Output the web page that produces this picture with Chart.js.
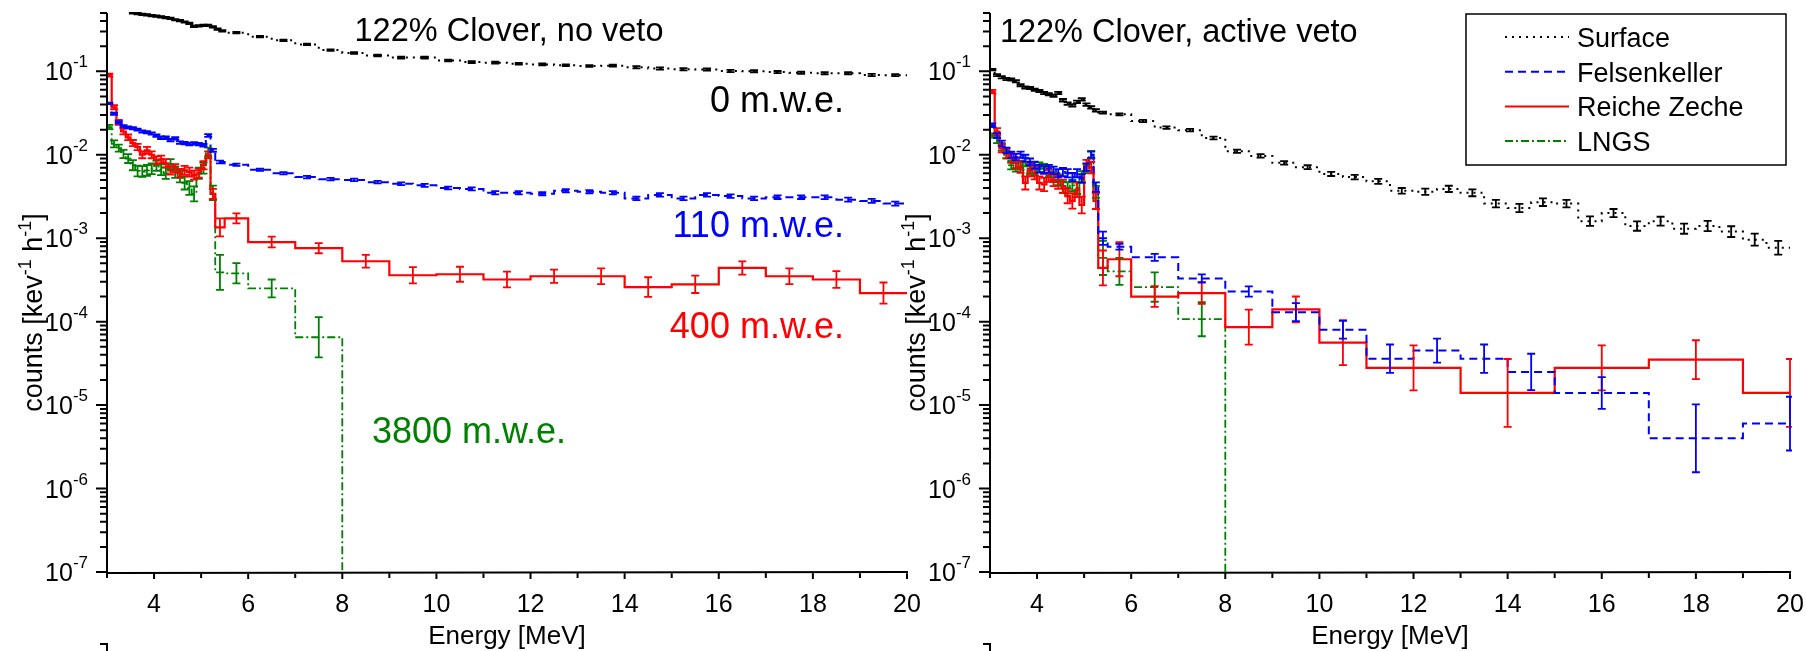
<html><head>
<meta charset="UTF-8">
<title>122% Clover background spectra</title>
<style>
  body { margin: 0; background: #fff; width: 1806px; height: 651px; overflow: hidden; position: relative; }
  canvas { position: absolute; top: 0; }
  #left { left: 0; }
  #right { left: 900px; }
</style>
<script src="https://cdn.jsdelivr.net/npm/chart.js"></script>
</head>
<body>
<canvas id="left" width="930" height="651"></canvas>
<canvas id="right" width="906" height="651"></canvas>

<script>
// bin edges [MeV]
const fineEdges = [3.0, 3.1, 3.2, 3.3, 3.4, 3.5, 3.6, 3.7, 3.8, 3.9, 4.0, 4.1, 4.2, 4.3, 4.4, 4.5, 4.6, 4.7, 4.8, 4.9, 5.0, 5.1, 5.2, 5.3];
const halfEdges = [5.5, 6, 6.5, 7, 7.5, 8, 8.5, 9, 9.5, 10, 10.5, 11, 11.5, 12, 12.5, 13, 13.5, 14, 14.5, 15, 15.5, 16, 16.5, 17, 17.5, 18, 18.5, 19, 19.5, 20];
const surfNoVetoEdges = [3.5, 3.6, 3.7, 3.8, 3.9, 4.0, 4.1, 4.2, 4.3, 4.4, 4.5, 4.6, 4.7, 4.8, 4.9, 5.0, 5.1, 5.2, 5.3, 5.4].concat(halfEdges);
const felsNoVetoEdges = fineEdges.concat(halfEdges);
const reicheNoVetoEdges = fineEdges.concat([5.5, 6, 7, 8, 9, 10, 11, 12, 13, 14, 15, 16, 17, 18, 19, 20]);
const lngsEdges = fineEdges.concat([5.5, 6, 7, 8, 20]);
const surfVetoEdges = fineEdges.concat(halfEdges);
const felsVetoEdges = fineEdges.concat([5.5, 6, 7, 8, 9, 10, 11, 12, 13, 14, 15, 17, 19, 21]);
const reicheVetoEdges = fineEdges.concat([5.5, 6, 7, 8, 9, 10, 11, 13, 15, 17, 19, 21]);

// counts [kev^-1 h^-1], no veto
const surfNoVeto = [0.50, 0.49, 0.48, 0.475, 0.465, 0.46, 0.45, 0.44, 0.43, 0.415, 0.405, 0.39, 0.375, 0.345, 0.35, 0.355, 0.355, 0.34, 0.32, 0.305,
  0.29, 0.26, 0.235, 0.21, 0.18, 0.166, 0.155, 0.146, 0.146, 0.135, 0.129, 0.127, 0.123, 0.121, 0.118, 0.116, 0.117, 0.112, 0.108, 0.106, 0.105, 0.101, 0.1, 0.098, 0.096, 0.095, 0.0946, 0.0904, 0.09];
const surfNoVetoErr = [0.02, 0.02, 0.02, 0.02, 0.02, 0.02, 0.02, 0.02, 0.02, 0.02, 0.02, 0.02, 0.02, 0.02, 0.02, 0.02, 0.02, 0.02, 0.02, 0.02,
  0.02, 0.02, 0.02, 0.02, 0.02, 0.025, 0.025, 0.025, 0.025, 0.025, 0.025, 0.025, 0.025, 0.025, 0.025, 0.025, 0.025, 0.03, 0.03, 0.03, 0.03, 0.03, 0.03, 0.03, 0.03, 0.03, 0.03, 0.03, 0.03];
const felsNoVeto = [0.0414, 0.031, 0.0245, 0.022, 0.0213, 0.0208, 0.020, 0.019, 0.0186, 0.018, 0.017, 0.016, 0.016, 0.015, 0.0157, 0.014, 0.0138, 0.0134, 0.0137, 0.0134, 0.013, 0.017, 0.0113,
  0.0082, 0.0076, 0.0066, 0.006, 0.0054, 0.0051, 0.005, 0.0047, 0.0045, 0.0043, 0.004, 0.0039, 0.0035, 0.0035, 0.0034, 0.0037, 0.0036, 0.0035, 0.003, 0.0033, 0.003, 0.0033, 0.0032, 0.003, 0.0031, 0.0031, 0.0031, 0.0029, 0.0028, 0.0026];
const felsNoVetoErr = [0.02, 0.03, 0.03, 0.03, 0.03, 0.03, 0.03, 0.03, 0.03, 0.03, 0.035, 0.035, 0.035, 0.035, 0.035, 0.035, 0.035, 0.035, 0.035, 0.035, 0.035, 0.04, 0.04,
  0.04, 0.03, 0.03, 0.03, 0.035, 0.035, 0.035, 0.035, 0.04, 0.04, 0.04, 0.04, 0.045, 0.045, 0.045, 0.045, 0.045, 0.045, 0.05, 0.05, 0.05, 0.05, 0.05, 0.05, 0.05, 0.05, 0.055, 0.055, 0.055, 0.055];
const reicheNoVeto = [0.09, 0.037, 0.0245, 0.019, 0.0162, 0.0138, 0.0124, 0.010, 0.0113, 0.010, 0.0086, 0.0088, 0.0079, 0.0065, 0.0069, 0.006, 0.0065, 0.0062, 0.0057, 0.006, 0.0075, 0.010, 0.0034,
  0.00135, 0.00173, 0.0009, 0.00076, 0.00053, 0.00036, 0.00037, 0.00032, 0.00035, 0.00035, 0.00026, 0.00028, 0.00044, 0.00035, 0.00032, 0.00022];
const reicheNoVetoErr = [0.04, 0.06, 0.07, 0.08, 0.08, 0.09, 0.09, 0.1, 0.1, 0.1, 0.11, 0.11, 0.12, 0.12, 0.12, 0.13, 0.13, 0.13, 0.13, 0.13, 0.12, 0.1, 0.15,
  0.28, 0.15, 0.16, 0.15, 0.19, 0.25, 0.23, 0.24, 0.2, 0.24, 0.31, 0.27, 0.2, 0.24, 0.26, 0.34];
const lngsNoVeto = [0.0215, 0.0135, 0.012, 0.0102, 0.009, 0.0075, 0.0064, 0.0063, 0.0065, 0.0068, 0.0074, 0.0066, 0.006, 0.0077, 0.0062, 0.0055, 0.0046, 0.004, 0.0034, 0.006, 0.0069, 0.0108, 0.0035,
  3.9e-4, 3.8e-4, 2.5e-4, 6.5e-5, 1e-12];
const lngsNoVetoErr = [0.06, 0.1, 0.1, 0.12, 0.13, 0.15, 0.16, 0.16, 0.16, 0.16, 0.15, 0.16, 0.17, 0.15, 0.17, 0.18, 0.2, 0.21, 0.23, 0.17, 0.16, 0.13, 0.22,
  0.62, 0.32, 0.28, 0.74, 0];

// counts [kev^-1 h^-1], active veto
const surfVeto = [0.105, 0.09, 0.085, 0.081, 0.08, 0.076, 0.068, 0.064, 0.063, 0.06, 0.058, 0.055, 0.053, 0.051, 0.055, 0.045, 0.041, 0.039, 0.043, 0.046, 0.04, 0.037, 0.034,
  0.032, 0.0305, 0.0254, 0.0212, 0.0197, 0.0159, 0.011, 0.0097, 0.008, 0.0071, 0.0059, 0.0054, 0.0048, 0.0037, 0.0036, 0.0039, 0.0035, 0.0026, 0.0023, 0.0027, 0.0026, 0.0016, 0.002, 0.0014, 0.0016, 0.0013, 0.0014, 0.0012, 0.00096, 0.00077];
const surfVetoErr = [0.02, 0.03, 0.03, 0.03, 0.03, 0.03, 0.03, 0.03, 0.03, 0.03, 0.03, 0.03, 0.03, 0.03, 0.03, 0.035, 0.035, 0.035, 0.035, 0.035, 0.035, 0.035, 0.035,
  0.03, 0.03, 0.03, 0.035, 0.035, 0.04, 0.045, 0.05, 0.05, 0.055, 0.06, 0.065, 0.07, 0.08, 0.09, 0.09, 0.1, 0.11, 0.12, 0.11, 0.11, 0.14, 0.12, 0.14, 0.13, 0.15, 0.15, 0.16, 0.18, 0.21];
const felsVeto = [0.0226, 0.017, 0.0137, 0.0113, 0.010, 0.0094, 0.010, 0.0091, 0.0082, 0.0075, 0.0068, 0.0066, 0.0068, 0.0065, 0.006, 0.0062, 0.006, 0.0054, 0.006, 0.0052, 0.0071, 0.010, 0.0041,
  0.001, 0.00079, 0.00059, 0.00033, 0.00023, 0.00013, 0.00008, 0.000036, 0.000045, 0.000036, 0.000025, 0.000014, 0.000004, 0.000006];
const felsVetoErr = [0.05, 0.07, 0.08, 0.08, 0.09, 0.09, 0.09, 0.1, 0.1, 0.1, 0.11, 0.11, 0.11, 0.11, 0.12, 0.12, 0.12, 0.12, 0.12, 0.13, 0.11, 0.09, 0.14,
  0.2, 0.08, 0.1, 0.12, 0.15, 0.28, 0.28, 0.48, 0.39, 0.48, 0.65, 0.55, 1.55, 1.1];
const reicheVeto = [0.057, 0.019, 0.012, 0.0104, 0.0092, 0.008, 0.0071, 0.0046, 0.0065, 0.006, 0.0046, 0.0044, 0.0056, 0.005, 0.0047, 0.0042, 0.0032, 0.0028, 0.0038, 0.0025, 0.0075, 0.007, 0.0028,
  0.00044, 0.00056, 0.0002, 0.00022, 0.000086, 0.00014, 0.000056, 0.000028, 0.000014, 0.000028, 0.000035, 0.000014];
const reicheVetoErr = [0.05, 0.1, 0.12, 0.14, 0.15, 0.16, 0.17, 0.2, 0.18, 0.18, 0.2, 0.2, 0.18, 0.19, 0.2, 0.2, 0.22, 0.24, 0.22, 0.26, 0.16, 0.17, 0.25,
  0.62, 0.6, 0.33, 0.35, 0.62, 0.43, 0.86, 0.86, 1.55, 0.86, 0.71, 1.55];
const lngsVeto = [0.017, 0.0149, 0.0124, 0.010, 0.0075, 0.0071, 0.0075, 0.0082, 0.0068, 0.0065, 0.0071, 0.0068, 0.0062, 0.0054, 0.005, 0.0041, 0.004, 0.0043, 0.004, 0.0055, 0.0068, 0.010, 0.0036,
  5.8e-4, 4.0e-4, 2.6e-4, 1.07e-4, 1e-12];
const lngsVetoErr = [0.06, 0.08, 0.1, 0.11, 0.12, 0.13, 0.13, 0.13, 0.14, 0.14, 0.14, 0.14, 0.15, 0.15, 0.16, 0.17, 0.17, 0.17, 0.18, 0.16, 0.13, 0.11, 0.18,
  0.6, 0.45, 0.5, 0.6, 0];

// axis ticks
const xTicks = [4, 6, 8, 10, 12, 14, 16, 18, 20];
const xMinorTicks = [3, 5, 7, 9, 11, 13, 15, 17, 19];
const yDecades = [-7, -6, -5, -4, -3, -2, -1];
const yMinorMult = [2, 3, 4, 5, 6, 7, 8, 9];

const FONT = '"Liberation Sans", Arial, sans-serif';

function steps(edges, vals) {
  const pts = [];
  vals.forEach((v, i) => { pts.push({x: edges[i], y: v}, {x: edges[i + 1], y: v}); });
  return pts;
}
function bars(edges, vals, errs) {
  return vals.map((v, i) => ({c: (edges[i] + edges[i + 1]) / 2, v: v, e: errs[i]}));
}

// text with superscripts, parts = [[text, isSup], ...]
function richWidth(ctx, parts, size, supSize) {
  let w = 0;
  parts.forEach(p => { ctx.font = (p[1] ? supSize : size) + 'px ' + FONT; w += ctx.measureText(p[0]).width; });
  return w;
}
function drawRich(ctx, parts, x, y, size, supSize, rise) {
  parts.forEach(p => {
    ctx.font = (p[1] ? supSize : size) + 'px ' + FONT;
    ctx.fillText(p[0], x, p[1] ? y - rise : y);
    x += ctx.measureText(p[0]).width;
  });
}

const panel = {
  id: 'panel',
  afterDatasetsDraw(chart) {
    const {ctx, chartArea: a, scales: {x, y}} = chart;
    ctx.save();
    ctx.beginPath();
    ctx.rect(a.left, a.top - 1, a.right - a.left + 2, a.bottom - a.top + 1);
    ctx.clip();
    chart.data.datasets.slice().reverse().forEach(ds => {
      ctx.strokeStyle = ds.borderColor;
      ctx.lineWidth = 1.8;
      ctx.setLineDash([]);
      ds.bins.forEach(b => {
        if (!b.e) return;
        const px = x.getPixelForValue(b.c);
        const top = y.getPixelForValue(b.v * (1 + b.e));
        const bot = y.getPixelForValue(b.v / (1 + b.e));
        ctx.beginPath();
        ctx.moveTo(px, top); ctx.lineTo(px, bot);
        ctx.moveTo(px - 4, top); ctx.lineTo(px + 4, top);
        ctx.moveTo(px - 4, bot); ctx.lineTo(px + 4, bot);
        ctx.stroke();
      });
    });
    ctx.restore();
  },
  afterDraw(chart, args, o) {
    const {ctx, chartArea: a, scales: {x, y}} = chart;
    ctx.save();
    ctx.strokeStyle = '#000';
    ctx.fillStyle = '#000';
    ctx.lineWidth = 2;
    ctx.lineCap = 'butt';
    ctx.setLineDash([]);

    // axis lines and ticks
    ctx.beginPath();
    ctx.moveTo(a.left, a.top); ctx.lineTo(a.left, a.bottom + 1); ctx.lineTo(a.right + 1, a.bottom);
    yDecades.forEach(d => {
      const py = y.getPixelForValue(Math.pow(10, d));
      ctx.moveTo(a.left - 11, py); ctx.lineTo(a.left, py);
      yMinorMult.forEach(m => {
        const val = m * Math.pow(10, d);
        if (val > y.max * 1.0001) return;
        const p = y.getPixelForValue(val);
        ctx.moveTo(a.left - 7, p); ctx.lineTo(a.left, p);
      });
    });
    xTicks.forEach(t => { const px = x.getPixelForValue(t); ctx.moveTo(px, a.bottom); ctx.lineTo(px, a.bottom + 7); });
    xMinorTicks.forEach(t => { const px = x.getPixelForValue(t); ctx.moveTo(px, a.bottom); ctx.lineTo(px, a.bottom + 6); });
    // top of the panel below
    ctx.moveTo(a.left, 643); ctx.lineTo(a.left, 651);
    ctx.moveTo(a.left - 7, 644); ctx.lineTo(a.left, 644);
    ctx.stroke();

    // tick labels
    ctx.textBaseline = 'alphabetic';
    ctx.font = '25px ' + FONT;
    ctx.textAlign = 'center';
    xTicks.forEach(t => ctx.fillText(String(t), x.getPixelForValue(t), a.bottom + 40));
    ctx.textAlign = 'left';
    yDecades.forEach(d => {
      const py = y.getPixelForValue(Math.pow(10, d));
      const parts = [['10', false], [String(d), true]];
      const w = richWidth(ctx, parts, 25, 17);
      drawRich(ctx, parts, a.left - 19 - w, py + 9, 25, 17, 13);
    });

    // axis titles
    ctx.font = '26px ' + FONT;
    ctx.textAlign = 'center';
    ctx.fillText('Energy [MeV]', (a.left + a.right) / 2, a.bottom + 72);
    ctx.textAlign = 'left';
    const yt = [['counts [kev', false], ['-1', true], [' h', false], ['-1', true], [']', false]];
    ctx.save();
    ctx.translate(a.left - 65, (a.top + a.bottom) / 2 + 20);
    ctx.rotate(-Math.PI / 2);
    const tw = richWidth(ctx, yt, 27, 18);
    drawRich(ctx, yt, -tw / 2, 0, 27, 18, 11);
    ctx.restore();

    // annotations
    o.labels.forEach(l => {
      ctx.font = l.size + 'px ' + FONT;
      ctx.fillStyle = l.color;
      ctx.textAlign = l.align;
      ctx.fillText(l.text, x.getPixelForValue(l.x), y.getPixelForValue(l.y));
    });

    // legend
    if (o.legend) {
      const L = o.legend;
      const bx = a.right - L.right - L.w, by = a.top + L.top;
      ctx.fillStyle = '#fff';
      ctx.fillRect(bx, by, L.w, L.h);
      ctx.strokeStyle = '#000';
      ctx.lineWidth = 1.5;
      ctx.strokeRect(bx, by, L.w, L.h);
      ctx.textAlign = 'left';
      ctx.font = '27px ' + FONT;
      chart.data.datasets.forEach((ds, i) => {
        const ly = by + 23 + i * 34.7;
        ctx.strokeStyle = ds.borderColor;
        ctx.lineWidth = 2;
        ctx.setLineDash(ds.borderDash);
        ctx.beginPath();
        ctx.moveTo(bx + 39, ly); ctx.lineTo(bx + 103, ly);
        ctx.stroke();
        ctx.setLineDash([]);
        ctx.fillStyle = '#000';
        ctx.fillText(ds.label, bx + 111, ly + 10);
      });
    }
    ctx.restore();
  }
};

function makeChart(id, sets, padRight, yWidth, opts) {
  return new Chart(document.getElementById(id), {
    type: 'line',
    data: {
      datasets: sets.map(s => ({
        label: s.label,
        data: steps(s.edges, s.vals),
        bins: bars(s.edges, s.vals, s.errs),
        borderColor: s.color,
        borderDash: s.dash,
        borderWidth: s.width,
        borderCapStyle: 'butt',
        borderJoinStyle: 'miter',
        pointRadius: 0,
        fill: false,
        tension: 0
      }))
    },
    options: {
      responsive: false,
      animation: false,
      devicePixelRatio: 1,
      events: [],
      layout: { padding: { left: 0, right: padRight, top: 13, bottom: 0 } },
      scales: {
        x: {
          type: 'linear', min: 3, max: 20,
          ticks: { display: false }, grid: { display: false }, border: { display: false },
          afterFit: s => { s.height = 79; }
        },
        y: {
          type: 'logarithmic', min: 1e-7, max: 0.5,
          ticks: { display: false }, grid: { display: false }, border: { display: false },
          afterFit: s => { s.width = yWidth; }
        }
      },
      plugins: { legend: { display: false }, tooltip: { enabled: false }, panel: opts }
    },
    plugins: [panel]
  });
}

const styles = {
  surf: { label: 'Surface', color: '#000000', dash: [2, 5], width: 2 },
  fels: { label: 'Felsenkeller', color: '#0000ff', dash: [8, 5], width: 2 },
  reiche: { label: 'Reiche Zeche', color: '#ff0000', dash: [], width: 2.2 },
  lngs: { label: 'LNGS', color: '#008000', dash: [8, 3, 2, 3], width: 1.8 }
};

makeChart('left', [
  Object.assign({ edges: surfNoVetoEdges, vals: surfNoVeto, errs: surfNoVetoErr }, styles.surf),
  Object.assign({ edges: felsNoVetoEdges, vals: felsNoVeto, errs: felsNoVetoErr }, styles.fels),
  Object.assign({ edges: reicheNoVetoEdges, vals: reicheNoVeto, errs: reicheNoVetoErr }, styles.reiche),
  Object.assign({ edges: lngsEdges, vals: lngsNoVeto, errs: lngsNoVetoErr }, styles.lngs)
], 23, 107, {
  labels: [
    { text: '122% Clover, no veto', x: 8.26, y: 0.229, size: 32.5, color: '#000000', align: 'left' },
    { text: '0 m.w.e.', x: 18.66, y: 0.0323, size: 36, color: '#000000', align: 'right' },
    { text: '110 m.w.e.', x: 18.66, y: 1.03e-3, size: 36, color: '#0000ff', align: 'right' },
    { text: '400 m.w.e.', x: 18.66, y: 6.3e-5, size: 36, color: '#ff0000', align: 'right' },
    { text: '3800 m.w.e.', x: 8.63, y: 3.5e-6, size: 36, color: '#008000', align: 'left' }
  ]
});

makeChart('right', [
  Object.assign({ edges: surfVetoEdges, vals: surfVeto, errs: surfVetoErr }, styles.surf),
  Object.assign({ edges: felsVetoEdges, vals: felsVeto, errs: felsVetoErr }, styles.fels),
  Object.assign({ edges: reicheVetoEdges, vals: reicheVeto, errs: reicheVetoErr }, styles.reiche),
  Object.assign({ edges: lngsEdges, vals: lngsVeto, errs: lngsVetoErr }, styles.lngs)
], 16, 90, {
  labels: [
    { text: '122% Clover, active veto', x: 3.21, y: 0.2225, size: 32.5, color: '#000000', align: 'left' }
  ],
  legend: { right: 4, top: 1, w: 320, h: 151 }
});
</script>
</body></html>
